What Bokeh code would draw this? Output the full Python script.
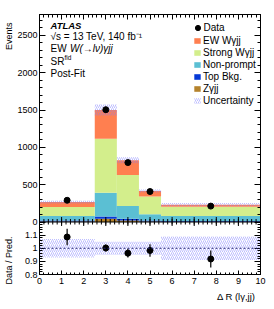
import numpy as np
from bokeh.plotting import figure
from bokeh.layouts import row
from bokeh.models import (Range1d, FixedTicker, LinearAxis, Label, Legend, LegendItem,
                          Span, Title, CustomJSTickFormatter, CustomLabelingPolicy)
from bokeh.embed import file_html
from bokeh.resources import INLINE

# ---------------- data ----------------
bin_lo = [0.0, 2.5, 3.5, 4.5, 5.5]
bin_hi = [2.5, 3.5, 4.5, 5.5, 10.0]
z_gjj = [8, 45, 20, 8, 5]
top_bkg = [12, 28, 24, 12, 8]
non_prompt = [60, 320, 170, 83, 67]
strong_wgjj = [121, 724, 416, 237, 125]
ew_wgjj = [67, 384, 197, 75, 27]
data_x = [1.25, 3.0, 4.0, 5.0, 7.75]
data_y = [291, 1504, 796, 408, 213]
data_err = [17, 39, 28, 20, 15]
rel_unc = [0.07, 0.05, 0.05, 0.05, 0.09]

y_ticks = [0, 500, 1000, 1500, 2000, 2500]
x_ticks = [0, 1, 2, 3, 4, 5, 6, 7, 8, 9, 10]
ratio_ticks = [0.8, 0.9, 1.0, 1.1]

# ---------------- style ----------------
FONT = "Liberation Sans"
C_EW = "#ff7f50"
C_STRONG = "#d3ee8c"
C_NP = "#5bbfd3"
C_TOP = "#0539d6"
C_Z = "#b5832c"
C_HATCH = "#7c7cff"

Y_MAX = 2780.0
R_MIN, R_MAX = 0.8, 1.2
FRAME_W = 221
FRAME_H = 260
MAIN_PX = 207.5           # pixels of the frame used by the upper panel
RATIO_PX = FRAME_H - MAIN_PX
TOP_B, BOT_B = 14, 30
TOTAL_H = TOP_B + FRAME_H + BOT_B

Y_MIN = -Y_MAX * RATIO_PX / MAIN_PX
R_TOP = R_MIN + (R_MAX - R_MIN) * FRAME_H / RATIO_PX


def r2m(v):
    # ratio value -> main axis coordinate (for tick placement on the shared axes)
    return Y_MIN + (v - R_MIN) / (R_TOP - R_MIN) * (Y_MAX - Y_MIN)


def my(py):
    # page pixel row -> main data value
    return (TOP_B + MAIN_PX - py) / MAIN_PX * Y_MAX


def px(pxx):
    # page pixel column -> x data value (frame columns 39..260)
    return (pxx - 39) / FRAME_W * 10


NO_LABELS = CustomLabelingPolicy(code="for (const i of indices) indices.unset(i)")
EMPTY_FMT = CustomJSTickFormatter(code="return '';")


def make_axis(ticks, minor, labels, maj=6, mnr=3, formatter=None):
    ax = LinearAxis(ticker=FixedTicker(ticks=ticks, minor_ticks=minor))
    ax.major_tick_in = maj
    ax.major_tick_out = 0
    ax.minor_tick_in = mnr
    ax.minor_tick_out = 0
    ax.axis_line_color = "black"
    ax.major_tick_line_color = "black"
    ax.minor_tick_line_color = "black"
    ax.major_label_text_font = FONT
    ax.major_label_text_font_size = "9px"
    ax.major_label_text_color = "black"
    if labels:
        if formatter is not None:
            ax.formatter = formatter
        ax.major_label_standoff = 2
    else:
        ax.formatter = EMPTY_FMT
        ax.major_label_policy = NO_LABELS
        ax.major_label_standoff = 0
    return ax


def add_text(fig, x, y, text, size="10px", style="normal", align="left",
             baseline="middle", angle=0.0):
    fig.add_layout(Label(x=x, y=y, text=text, text_font=FONT, text_font_size=size,
                         text_font_style=style, text_align=align,
                         text_baseline=baseline, angle=angle, text_color="black"))


x_minor = [round(v * 0.2, 2) for v in range(0, 51)]
y_minor = list(range(0, 2800, 100))
r_minor = [round(0.8 + 0.02 * i, 2) for i in range(0, 21)]

# ---------------- combined figure (upper + ratio panels share one frame) -------------
p = figure(frame_width=FRAME_W, frame_height=FRAME_H, x_range=Range1d(0, 10),
           y_range=Range1d(Y_MIN, Y_MAX), output_backend="svg", toolbar_location=None,
           x_axis_location=None, y_axis_location=None,
           min_border_left=25, min_border_right=10, min_border_top=TOP_B,
           min_border_bottom=BOT_B)
p.extra_y_ranges = {"ratio": Range1d(R_MIN, R_TOP)}
p.outline_line_color = "black"
p.grid.visible = False
p.background_fill_color = "white"
p.border_fill_color = "white"

left_ticks = y_ticks + [r2m(v) for v in ratio_ticks]
left_minor = y_minor + [r2m(v) for v in r_minor]
lfmt = CustomJSTickFormatter(
    args=dict(ymin=Y_MIN, ymax=Y_MAX, r0=R_MIN, r1=R_TOP),
    code="""
    if (tick > -1) { return String(Math.round(tick)); }
    const r = r0 + (tick - ymin) * (r1 - r0) / (ymax - ymin);
    return String(Math.round(r * 10) / 10);
    """)
p.add_layout(make_axis(left_ticks, left_minor, True, 6, 3, lfmt), "left")
p.add_layout(make_axis(left_ticks, left_minor, False, 6, 3), "right")
p.add_layout(make_axis(x_ticks, x_minor, False, 5, 3), "above")
bx = make_axis(x_ticks, x_minor, True, 4, 2)
bx.major_label_standoff = 3
p.add_layout(bx, "below")

# stacked prediction
comps = [("Zγjj", z_gjj, C_Z), ("Top Bkg.", top_bkg, C_TOP),
         ("Non-prompt", non_prompt, C_NP), ("Strong Wγjj", strong_wgjj, C_STRONG),
         ("EW Wγjj", ew_wgjj, C_EW)]
bottom = np.zeros(len(bin_lo))
rend = {}
for name, vals, col in comps:
    top = bottom + np.array(vals, dtype=float)
    rend[name] = p.quad(left=bin_lo, right=bin_hi, bottom=bottom, top=top,
                        fill_color=col, line_color=None)
    bottom = top
total = bottom
unc = np.array(rel_unc)

r_unc = p.quad(left=bin_lo, right=bin_hi, bottom=total * (1 - unc), top=total * (1 + unc),
               fill_color=None, line_color=None, hatch_pattern="/",
               hatch_color=C_HATCH, hatch_scale=4, hatch_weight=0.5)

dy = np.array(data_y, dtype=float)
de = np.array(data_err, dtype=float)
p.segment(x0=data_x, y0=dy - de, x1=data_x, y1=dy + de, line_color="black", line_width=1.2)
r_data = p.scatter(x=data_x, y=dy, size=6, fill_color="black", line_color="black")

# boundary between the two panels, with ticks on both sides
p.add_layout(Span(location=0, dimension="width", line_color="black", line_width=1))
pxu = Y_MAX / MAIN_PX
p.segment(x0=x_ticks, y0=[-4 * pxu] * len(x_ticks), x1=x_ticks, y1=[5 * pxu] * len(x_ticks),
          line_color="black", line_width=1)
p.segment(x0=x_minor, y0=[-2.5 * pxu] * len(x_minor), x1=x_minor,
          y1=[3 * pxu] * len(x_minor), line_color="black", line_width=1)

# ratio panel
p.quad(left=bin_lo, right=bin_hi, bottom=1 - unc, top=1 + unc, y_range_name="ratio",
       fill_color=None, line_color=None, hatch_pattern="/",
       hatch_color=C_HATCH, hatch_scale=4, hatch_weight=0.5)
p.add_layout(Span(location=1.0, dimension="width", y_range_name="ratio",
                  line_color="#24247a", line_dash="2 2", line_width=1))
ratio = dy / total
ratio_err = de / total
p.segment(x0=data_x, y0=ratio - ratio_err, x1=data_x, y1=ratio + ratio_err,
          y_range_name="ratio", line_color="black", line_width=1.2)
p.scatter(x=data_x, y=ratio, size=6, y_range_name="ratio",
          fill_color="black", line_color="black")

# texts in the upper panel
add_text(p, px(50), my(24.5), "ATLAS", size="9.5px", style="bold italic")
add_text(p, px(50), my(36), "√s = 13 TeV, 140 fb⁻¹")
add_text(p, px(50), my(48), "EW")
add_text(p, px(69.5), my(48), "W(→lν)γjj", style="italic")
add_text(p, px(50), my(60.5), "SR")
add_text(p, px(64), my(57), "fid", size="6.5px")
add_text(p, px(50), my(73), "Post-Fit")

# x axis title (right aligned under the frame)
p.add_layout(Title(text="Δ R (lγ,jj)", align="right", text_font=FONT,
                   text_font_size="9.5px", text_font_style="normal",
                   text_color="black", standoff=4, offset=5), "below")


# legends
def style_legend(lg, gw, gh):
    lg.border_line_alpha = 0
    lg.background_fill_alpha = 0
    lg.padding = 0
    lg.margin = 0
    lg.spacing = 0
    lg.label_text_font = FONT
    lg.label_text_font_size = "10px"
    lg.label_text_color = "black"
    lg.label_height = 12
    lg.glyph_width = gw
    lg.glyph_height = gh


leg_data = Legend(items=[LegendItem(label="Data", renderers=[r_data])],
                  location=(151.5, FRAME_H - 19.5))
style_legend(leg_data, 13, 13)
leg_data.label_standoff = 0
p.add_layout(leg_data)

leg_items = [LegendItem(label="EW Wγjj", renderers=[rend["EW Wγjj"]]),
             LegendItem(label="Strong Wγjj", renderers=[rend["Strong Wγjj"]]),
             LegendItem(label="Non-prompt", renderers=[rend["Non-prompt"]]),
             LegendItem(label="Top Bkg.", renderers=[rend["Top Bkg."]]),
             LegendItem(label="Zγjj", renderers=[rend["Zγjj"]]),
             LegendItem(label="Uncertainty", renderers=[r_unc])]
leg_main = Legend(items=leg_items, location=(154, FRAME_H - 92))
style_legend(leg_main, 8, 7)
leg_main.label_standoff = 2
p.add_layout(leg_main)

# ---------------- narrow strip holding the vertical axis titles ----------------
lab = figure(frame_width=14, frame_height=TOTAL_H, x_range=Range1d(0, 14),
             y_range=Range1d(TOTAL_H, 0), output_backend="svg", toolbar_location=None,
             x_axis_location=None, y_axis_location=None, min_border=0)
lab.outline_line_color = None
lab.grid.visible = False
lab.background_fill_color = "white"
lab.border_fill_color = "white"
add_text(lab, 8, 8, "Events", size="9px", align="right", angle=np.pi / 2)
add_text(lab, 8, 246, "Data / Pred.", size="9px", align="center", angle=np.pi / 2)

layout = row(lab, p, spacing=0)
open("out.html", "w").write(file_html(layout, INLINE))
